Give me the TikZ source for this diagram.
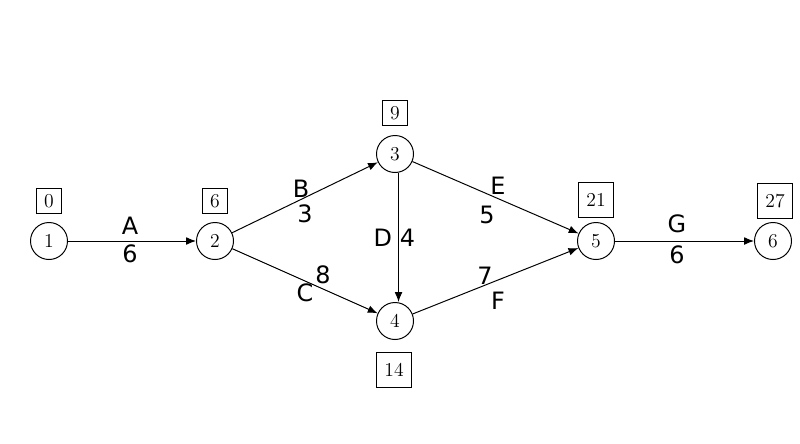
\documentclass[tikz,border=0pt]{standalone}
\usepackage{fontspec}
\newfontfamily\lblfont{DejaVu Sans}
\usetikzlibrary{arrows.meta}

\begin{document}
\begin{tikzpicture}[x=0.025cm,y=-0.025cm,line width=0.7pt,
  event/.style={circle,draw,minimum size=0.925cm,inner sep=0pt,font=\fontsize{14}{16}\selectfont},
  tag/.style={draw,minimum size=0.63cm,inner sep=0pt,font=\fontsize{14}{16}\selectfont},
  widetag/.style={tag,minimum size=0.86cm},
  act/.style={-{Latex[length=7pt,width=5.5pt]}},
  lbl/.style={font=\lblfont\fontsize{17}{20}\selectfont,inner sep=1pt}]
  \useasboundingbox (0,0) rectangle (800,443);
  % events
  \node[event] (n1) at (49,241) {1};
  \node[event] (n2) at (215,241) {2};
  \node[event] (n3) at (395,154) {3};
  \node[event] (n4) at (395,321) {4};
  \node[event] (n5) at (596,241) {5};
  \node[event] (n6) at (773,241) {6};
  % earliest times
  \node[tag] (t1) at (49,201) {0};
  \node[tag] (t2) at (215,201) {6};
  \node[tag] (t3) at (395,113) {9};
  \node[widetag] (t4) at (394,370) {14};
  \node[widetag] (t5) at (596,200) {21};
  \node[widetag] (t6) at (775,201) {27};
  % activities
  \draw[act] (n1) -- (n2) node[lbl,pos=0.484,above=3.5pt] (la) {A} node[lbl,pos=0.484,below=1.5pt] (da) {6};
  \draw[act] (n2) -- (n3) node[lbl,pos=0.473,above=0.2pt] (lb) {B} node[lbl,pos=0.5,below=3.8pt] (db) {3};
  \draw[act] (n2) -- (n4) node[lbl,pos=0.5,below=0.6pt] (lc) {C} node[lbl,pos=0.624,above=2pt] (dc) {8};
  \draw[act] ([xshift=2.5pt]n3.south) -- ([xshift=2.5pt]n4.north) node[lbl,midway,left=3.3pt] (ld) {D} node[lbl,midway,right=-0.3pt] (dd) {4};
  \draw[act] (n3) -- (n5) node[lbl,pos=0.515,above=1.8pt] (le) {E} node[lbl,pos=0.449,below=7.7pt] (de) {5};
  \draw[act] (n4) -- (n5) node[lbl,pos=0.515,below=7pt] (lf) {F} node[lbl,pos=0.437,above=-0.7pt] (df) {7};
  \draw[act] (n5) -- (n6) node[lbl,pos=0.446,above=4.5pt] (lg) {G} node[lbl,pos=0.446,below=1.7pt] (dg) {6};
\end{tikzpicture}
\end{document}
